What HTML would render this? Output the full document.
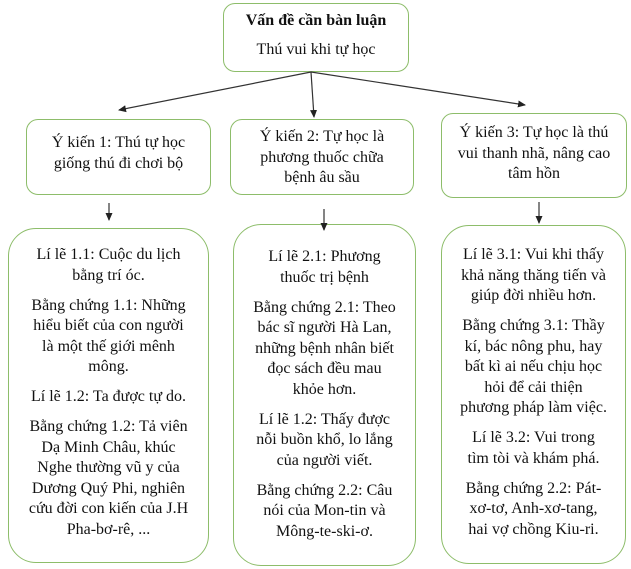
<!DOCTYPE html>
<html><head><meta charset="utf-8"><style>
body{margin:0;width:631px;height:569px;background:#fff;position:relative;overflow:hidden;font-family:"Liberation Serif","Noto Serif CJK SC",serif;font-size:16px;color:#111}
.b{position:absolute;border:1.5px solid #8dbd6a;box-sizing:border-box;background:#fff}
.t{position:absolute;text-align:center;line-height:20.5px;white-space:nowrap}
.t p{margin:0 0 9.5px 0}
svg{position:absolute;left:0;top:0}
</style></head><body>
<div class="b" style="left:223px;top:3px;width:186px;height:69px;border-radius:12px"></div>
<div class="b" style="left:26px;top:119px;width:185px;height:76px;border-radius:12px"></div>
<div class="b" style="left:230px;top:119px;width:184px;height:76px;border-radius:12px"></div>
<div class="b" style="left:441px;top:113px;width:186px;height:85px;border-radius:12px"></div>
<div class="b" style="left:8px;top:228px;width:201px;height:335px;border-radius:28px"></div>
<div class="b" style="left:233px;top:224px;width:183px;height:342px;border-radius:28px"></div>
<div class="b" style="left:441px;top:225px;width:185px;height:339px;border-radius:28px"></div>
<svg width="631" height="569">
<defs><marker id="a" markerWidth="8" markerHeight="8" refX="7" refY="4" orient="auto" markerUnits="userSpaceOnUse"><path d="M0,0.5 L8,4 L0,7.5Z" fill="#222"/></marker></defs>
<g stroke="#333" stroke-width="1.2" fill="none">
<line x1="311" y1="72" x2="119" y2="110" marker-end="url(#a)"/>
<line x1="311" y1="72" x2="314" y2="117" marker-end="url(#a)"/>
<line x1="311" y1="72" x2="525" y2="105" marker-end="url(#a)"/>
<line x1="109" y1="203" x2="109" y2="220" marker-end="url(#a)"/>
<line x1="324" y1="209" x2="324" y2="230" marker-end="url(#a)"/>
<line x1="539" y1="202" x2="539" y2="223" marker-end="url(#a)"/>
</g></svg>
<div class="t" style="left:223px;width:186px;top:11px"><b>Vấn đề cần bàn luận</b></div>
<div class="t" style="left:223px;width:186px;top:40px">Thú vui khi tự học</div>
<div class="t" style="left:26px;width:185px;top:133px">Ý kiến 1: Thú tự học<br>giống thú đi chơi bộ</div>
<div class="t" style="left:230px;width:184px;top:127px">Ý kiến 2: Tự học là<br>phương thuốc chữa<br>bệnh âu sầu</div>
<div class="t" style="left:441px;width:186px;top:123px">Ý kiến 3: Tự học là thú<br>vui thanh nhã, nâng cao<br>tâm hồn</div>
<div class="t" style="left:8px;width:201px;top:245px">
<p>Lí lẽ 1.1: Cuộc du lịch<br>bằng trí óc.</p>
<p>Bằng chứng 1.1: Những<br>hiểu biết của con người<br>là một thế giới mênh<br>mông.</p>
<p>Lí lẽ 1.2: Ta được tự do.</p>
<p>Bằng chứng 1.2: Tả viên<br>Dạ Minh Châu, khúc<br>Nghe thường vũ y của<br>Dương Quý Phi, nghiên<br>cứu đời con kiến của J.H<br>Pha-bơ-rê, ...</p>
</div>
<div class="t" style="left:233px;width:183px;top:247px">
<p>Lí lẽ 2.1: Phương<br>thuốc trị bệnh</p>
<p>Bằng chứng 2.1: Theo<br>bác sĩ người Hà Lan,<br>những bệnh nhân biết<br>đọc sách đều mau<br>khỏe hơn.</p>
<p>Lí lẽ 1.2: Thấy được<br>nỗi buồn khổ, lo lắng<br>của người viết.</p>
<p>Bằng chứng 2.2: Câu<br>nói của Mon-tin và<br>Mông-te-ski-ơ.</p>
</div>
<div class="t" style="left:441px;width:185px;top:245px">
<p>Lí lẽ 3.1: Vui khi thấy<br>khả năng thăng tiến và<br>giúp đời nhiều hơn.</p>
<p>Bằng chứng 3.1: Thầy<br>kí, bác nông phu, hay<br>bất kì ai nếu chịu học<br>hỏi để cải thiện<br>phương pháp làm việc.</p>
<p>Lí lẽ 3.2: Vui trong<br>tìm tòi và khám phá.</p>
<p>Bằng chứng 2.2: Pát-<br>xơ-tơ, Anh-xơ-tang,<br>hai vợ chồng Kiu-ri.</p>
</div>
</body></html>
